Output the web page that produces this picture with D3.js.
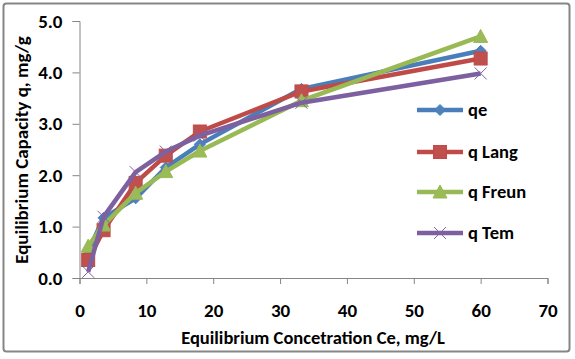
<!DOCTYPE html>
<html>
<head>
<meta charset="utf-8">
<script src="https://cdn.jsdelivr.net/npm/d3@7"></script>
<style>
  body { margin: 0; background: #fff; }
  text { font-family: Calibri, Carlito, "Open Sans", "Liberation Sans", sans-serif; font-weight: bold; fill: #000; }
</style>
</head>
<body>
<div id="svg-area"></div>
<script>
var svgWidth = 575;
var svgHeight = 359;

// data
var ce = [1.3, 3.6, 8.4, 12.9, 18.0, 33.2, 60.0];
var qe = [0.52, 1.17, 1.55, 2.15, 2.6, 3.68, 4.42];
var qLang = [0.35, 0.93, 1.85, 2.38, 2.85, 3.63, 4.27];
var qFreun = [0.62, 1.03, 1.65, 2.07, 2.47, 3.45, 4.7];
var qTem = [0.12, 1.19, 2.06, 2.46, 2.77, 3.41, 3.98];
var seriesNames = ["qe", "q Lang", "q Freun", "q Tem"];
var xTicks = [0, 10, 20, 30, 40, 50, 60, 70];
var yTicks = [0, 1, 2, 3, 4, 5];

var series = [
  { name: seriesNames[0], values: qe, line: "#4a7ebb", fill: "#4f81bd", marker: "diamond" },
  { name: seriesNames[1], values: qLang, line: "#be4b48", fill: "#c0504d", marker: "square" },
  { name: seriesNames[2], values: qFreun, line: "#98b954", fill: "#9bbb59", marker: "triangle" },
  { name: seriesNames[3], values: qTem, line: "#7d60a0", fill: "#8064a2", marker: "x" }
];

var svg = d3.select("#svg-area")
  .append("svg")
  .attr("width", svgWidth)
  .attr("height", svgHeight);

// chart frame
svg.append("rect")
  .attr("x", 3.5).attr("y", 3.5)
  .attr("width", 566).attr("height", 348)
  .attr("rx", 3)
  .attr("fill", "#fff")
  .attr("stroke", "#868686")
  .attr("stroke-width", 2);

var x = d3.scaleLinear().domain([0, 70]).range([79.5, 547.5]);
var y = d3.scaleLinear().domain([0, 5]).range([278, 21]);

// axes
var xAxis = svg.append("g")
  .attr("transform", "translate(0,278)")
  .call(d3.axisBottom(x).tickValues(xTicks).tickSize(6).tickPadding(20).tickFormat(d3.format("d")));
var yAxis = svg.append("g")
  .attr("transform", "translate(79.5,0)")
  .call(d3.axisLeft(y).tickValues(yTicks).tickSize(7).tickPadding(10).tickFormat(d3.format(".1f")));

[xAxis, yAxis].forEach(function(a) {
  a.select(".domain").attr("stroke", "#868686").attr("stroke-width", 1);
  a.selectAll(".tick line").attr("stroke", "#868686");
  a.selectAll(".tick text").style("font-size", "19px").attr("fill", "#000");
});

// axis titles
svg.append("text")
  .attr("x", 313).attr("y", 338)
  .attr("dy", "0.35em")
  .attr("text-anchor", "middle")
  .style("font-size", "18.5px")
  .text("Equilibrium Concetration Ce, mg/L");

svg.append("text")
  .attr("transform", "translate(21,150) rotate(-90)")
  .attr("dy", "0.35em")
  .attr("text-anchor", "middle")
  .style("font-size", "19px")
  .text("Equilibrium Capacity q, mg/g");

var lineGen = d3.line()
  .x(function(d) { return x(d[0]); })
  .y(function(d) { return y(d[1]); });

function drawMarker(g, type, cx, cy, s) {
  if (type === "diamond") {
    g.append("path")
      .attr("d", "M" + cx + "," + (cy - 5.5) + "L" + (cx + 5.5) + "," + cy + "L" + cx + "," + (cy + 5.5) + "L" + (cx - 5.5) + "," + cy + "Z")
      .attr("fill", s.fill).attr("stroke", s.line);
  } else if (type === "square") {
    g.append("rect")
      .attr("x", cx - 6.5).attr("y", cy - 6.5)
      .attr("width", 13).attr("height", 13)
      .attr("fill", s.fill).attr("stroke", s.line);
  } else if (type === "triangle") {
    g.append("path")
      .attr("d", "M" + cx + "," + (cy - 7) + "L" + (cx + 7) + "," + (cy + 6) + "L" + (cx - 7) + "," + (cy + 6) + "Z")
      .attr("fill", s.fill).attr("stroke", s.line);
  } else {
    g.append("path")
      .attr("d", "M" + (cx - 6) + "," + (cy - 6) + "L" + (cx + 6) + "," + (cy + 6) + "M" + (cx + 6) + "," + (cy - 6) + "L" + (cx - 6) + "," + (cy + 6))
      .attr("fill", "none").attr("stroke", s.fill).attr("stroke-width", 1);
  }
}

series.forEach(function(s) {
  var pts = ce.map(function(c, i) { return [c, s.values[i]]; });
  var g = svg.append("g");
  g.append("path")
    .datum(pts)
    .attr("d", lineGen)
    .attr("fill", "none")
    .attr("stroke", s.line)
    .attr("stroke-width", 4.5)
    .attr("stroke-linejoin", "round");
  pts.forEach(function(p) {
    drawMarker(g, s.marker, x(p[0]), y(p[1]), s);
  });
});

// legend
var legendY = [110, 152, 192, 233];
series.forEach(function(s, i) {
  var g = svg.append("g");
  g.append("line")
    .attr("x1", 417).attr("x2", 463)
    .attr("y1", legendY[i]).attr("y2", legendY[i])
    .attr("stroke", s.line).attr("stroke-width", 4.5);
  drawMarker(g, s.marker, 440, legendY[i], s);
  g.append("text")
    .attr("x", 468).attr("y", legendY[i])
    .attr("dy", "0.35em")
    .style("font-size", "18.5px")
    .text(s.name);
});
</script>
</body>
</html>
